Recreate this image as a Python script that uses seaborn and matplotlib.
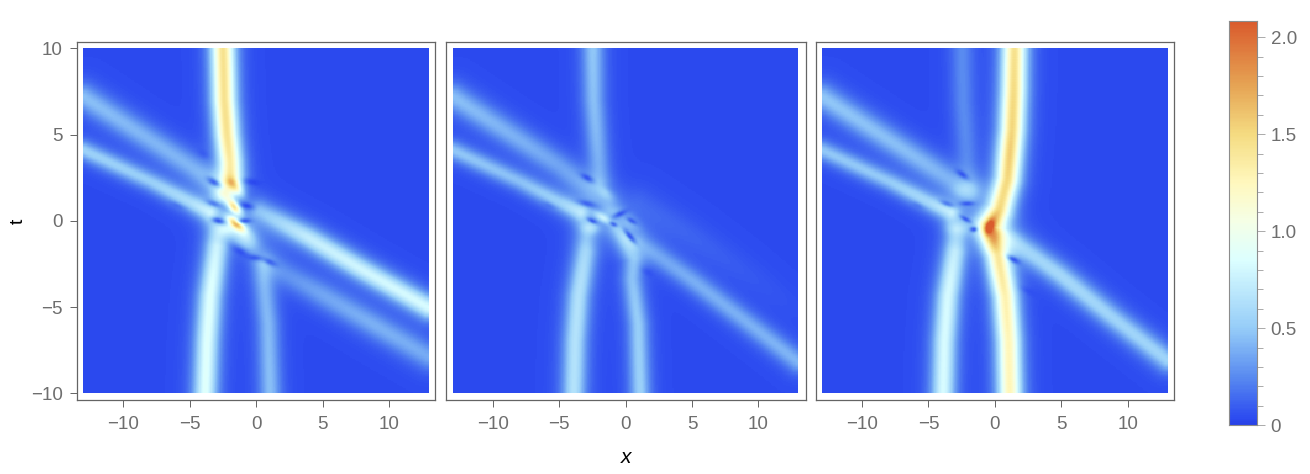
import numpy as np
import matplotlib
matplotlib.use("Agg")
import matplotlib.pyplot as plt
from matplotlib.colors import LinearSegmentedColormap
import seaborn as sns

plt.rcParams['font.family'] = ['Liberation Sans', 'DejaVu Sans']

# ================================
# VALUES
# The wave field itself cannot be read cell by cell, so each panel is kept as
# ridge tracks (x, t, peak height, width) and spots, estimated by eye.
# ================================

x_ticks = [-10, -5, 0, 5, 10]
t_ticks = [-10, -5, 0, 5, 10]
cbar_ticks = [0, 0.5, 1.0, 1.5, 2.0]
cbar_labels = ['0', '0.5', '1.0', '1.5', '2.0']
vmax = 2.084

# colour scale
cmap_values = [0, 0.03, 0.25, 0.5, 0.85, 1.05, 1.25, 1.5, 1.75, 2.084]
cmap_colors = ['#2842e6', '#2c4bf0', '#5a8cf0', '#96cdf8', '#dcffff',
               '#f5ffe6', '#fff8be', '#f5dc82', '#e6a555', '#da5c2d']

# --- panel 1 ridges
p1_top_x = [-2.5, -2.4, -2.2, -1.95, -1.9]
p1_top_t = [10, 7, 5, 3.4, 2.4]
p1_top_h = [1.42, 1.42, 1.45, 1.5, 1.6]
p1_d1_x = [-13, -8, -5, -2.5]
p1_d1_t = [7.2, 4.7, 3.2, 1.8]
p1_d1_h = [0.42, 0.38, 0.38, 0.42]
p1_d2_x = [-13, -8, -5, -3.5]
p1_d2_t = [4.1, 2.3, 1.1, 0.5]
p1_d2_h = [0.5, 0.48, 0.58, 0.75]
p1_d3_x = [0.3, 4, 8, 13]
p1_d3_t = [0.55, -1.0, -2.85, -5.05]
p1_d3_h = [0.5, 0.7, 0.76, 0.8]
p1_d4_x = [0.8, 5, 9, 13]
p1_d4_t = [-2.45, -4.3, -6.1, -7.9]
p1_d4_h = [0.2, 0.32, 0.36, 0.34]
p1_v1_x = [-3.84, -3.7, -3.47, -2.95, -2.9]
p1_v1_t = [-10, -7, -4.4, -1.5, -0.6]
p1_v1_h = [0.85, 0.85, 0.85, 0.85, 0.55]
p1_v2_x = [1.05, 0.9, 0.55, 0.5]
p1_v2_t = [-10, -6, -3.4, -2.6]
p1_v2_h = [0.42, 0.4, 0.38, 0.32]

# x, t, height, long radius, short radius, angle in degrees
p1_spots = [(-1.5, 1.9, 0.55, 0.8, 0.4, -50), (-1.65, 0.8, 1.15, 0.7, 0.38, -50),
            (-1.55, -0.15, 1.08, 0.8, 0.34, -40), (-0.9, -0.9, 0.55, 1.4, 0.8, -50),
            (-2.4, 1.5, 0.45, 0.8, 0.6, 0), (-2.2, -0.5, 0.35, 0.8, 0.6, 0),
            (-1, 0, 0.15, 3.2, 1.8, -30)]
# x, t, depth 0..1, long radius, short radius, angle in degrees
p1_dips = [(-3.2, 2.25, 0.8, 0.6, 0.28, -30), (-0.25, 2.25, 0.8, 0.65, 0.28, -10),
           (-4, 3.9, 0.4, 0.5, 0.3, -30), (-0.7, 0.87, 0.85, 0.5, 0.24, -15),
           (-2.85, 0, 0.85, 0.5, 0.24, -15), (-0.85, 0, 0.8, 0.5, 0.2, 0),
           (-6, 0.9, 0.35, 0.6, 0.2, -25), (-3.2, 1.0, 0.6, 0.6, 0.24, -20),
           (-1.2, -1.8, 0.7, 0.7, 0.28, -30), (-0.1, -2.15, 0.7, 0.6, 0.22, -5),
           (1.05, -2.4, 0.7, 0.6, 0.24, -25)]

# --- panel 2 ridges
p2_top_x = [-2.46, -2.4, -2.15, -1.9]
p2_top_t = [10, 7, 4.5, 2.4]
p2_top_h = [0.45, 0.42, 0.4, 0.38]
p2_d1_x = [-13, -8, -5, -1.4]
p2_d1_t = [7.2, 4.7, 3.2, 1.05]
p2_d1_h = [0.42, 0.36, 0.32, 0.38]
p2_d2_x = [-13, -8, -5, -3.4]
p2_d2_t = [4.1, 2.3, 1.1, 0.5]
p2_d2_h = [0.45, 0.42, 0.5, 0.68]
p2_d3_x = [1.1, 5, 9, 13]
p2_d3_t = [-1.3, -3.45, -5.8, -8.2]
p2_d3_h = [0.3, 0.35, 0.36, 0.38]
p2_d4_x = [1.1, 5, 9, 13]
p2_d4_t = [1.0, -0.9, -3.0, -5.2]
p2_d4_h = [0.1, 0.08, 0.05, 0.02]
p2_v1_x = [-3.9, -3.8, -3.55, -3.0, -2.9]
p2_v1_t = [-10, -7, -4.4, -1.8, -0.6]
p2_v1_h = [0.62, 0.62, 0.62, 0.62, 0.42]
p2_v2_x = [1.1, 0.95, 0.5, 0.6, -0.65]
p2_v2_t = [-10, -6, -3.4, -2.25, -0.5]
p2_v2_h = [0.5, 0.48, 0.45, 0.45, 0.42]

p2_spots = [(-1.7, 0.17, 0.45, 0.75, 0.3, -30), (-1.5, 1.6, 0.2, 0.7, 0.4, -40),
            (-0.9, 0.5, 0.15, 0.8, 0.5, 0), (-2.6, -0.4, 0.25, 0.7, 0.5, 0),
            (0.4, -0.1, 0.2, 0.9, 0.5, -40), (0.1, -1.0, 0.2, 1.0, 0.5, -50),
            (-1, 0, 0.12, 3.2, 1.8, -30)]
p2_dips = [(-2.9, 2.5, 0.8, 0.55, 0.24, -30), (-2.9, 1.0, 0.7, 0.75, 0.25, -15),
           (-2.5, 0, 0.8, 0.4, 0.18, -25), (-0.4, 0.4, 0.8, 0.6, 0.22, 25),
           (0.48, 0, 0.75, 0.45, 0.2, -30), (-0.9, -0.2, 0.75, 0.32, 0.18, -25),
           (0.35, -0.9, 0.85, 0.7, 0.22, -50), (1.7, -3.0, 0.5, 0.5, 0.3, -30),
           (-5.8, 0.9, 0.3, 0.5, 0.2, -25)]

# --- panel 3 ridges
p3_main_x = [1.48, 1.42, 1.3, 0.93, 0.3, -0.45, 0.18, 0.8, 1.05, 1.13]
p3_main_t = [10, 7.5, 5.3, 2.4, 0.64, -0.33, -1.9, -4.4, -7, -10]
p3_main_h = [1.42, 1.47, 1.52, 1.75, 2.0, 2.4, 1.55, 1.3, 1.24, 1.24]
p3_ghost_x = [-2.46, -2.4, -2.08, -1.8]
p3_ghost_t = [10, 7, 3.4, 2.2]
p3_ghost_h = [0.22, 0.22, 0.22, 0.25]
p3_d1_x = [-13, -8, -5, -1.8]
p3_d1_t = [7.2, 4.7, 3.2, 1.6]
p3_d1_h = [0.45, 0.42, 0.4, 0.38]
p3_d2_x = [-13, -8, -5, -3.3]
p3_d2_t = [4.1, 2.3, 1.1, 0.5]
p3_d2_h = [0.45, 0.46, 0.56, 0.75]
p3_d3_x = [0.55, 5, 9, 13]
p3_d3_t = [-0.7, -3.2, -5.7, -8.1]
p3_d3_h = [0.5, 0.55, 0.52, 0.52]
p3_v1_x = [-3.9, -3.8, -3.55, -3.0, -2.9]
p3_v1_t = [-10, -7, -4.4, -1.8, -0.7]
p3_v1_h = [0.8, 0.8, 0.8, 0.78, 0.5]

p3_spots = [(-2.8, -0.4, 0.22, 0.9, 0.6, 0), (-2.4, 1.7, 0.15, 0.9, 0.6, 0),
            (-1, 0, 0.1, 3.2, 1.8, -30), (-0.4, -0.35, 0.65, 0.55, 0.28, 70)]
p3_dips = [(-2.46, 2.7, 0.8, 0.55, 0.24, -35), (-2.08, 1.0, 0.75, 0.55, 0.18, 0),
           (-3.6, 1.0, 0.6, 0.6, 0.22, -20), (-2.2, 0.1, 0.75, 0.45, 0.17, -30),
           (-1.6, -0.5, 0.85, 0.3, 0.22, 0), (1.43, -2.26, 0.85, 0.55, 0.24, -30),
           (2.56, -4.1, 0.45, 0.6, 0.25, -30), (-5.85, 0.9, 0.3, 0.5, 0.2, -25)]

panels = [
    {'ridges': [(p1_top_x, p1_top_t, p1_top_h, 0.82), (p1_d1_x, p1_d1_t, p1_d1_h, 0.95),
                (p1_d2_x, p1_d2_t, p1_d2_h, 0.68), (p1_d3_x, p1_d3_t, p1_d3_h, 0.82),
                (p1_d4_x, p1_d4_t, p1_d4_h, 0.95), (p1_v1_x, p1_v1_t, p1_v1_h, 0.85),
                (p1_v2_x, p1_v2_t, p1_v2_h, 0.8)],
     'spots': p1_spots, 'dips': p1_dips},
    {'ridges': [(p2_top_x, p2_top_t, p2_top_h, 0.8), (p2_d1_x, p2_d1_t, p2_d1_h, 0.95),
                (p2_d2_x, p2_d2_t, p2_d2_h, 0.68), (p2_d3_x, p2_d3_t, p2_d3_h, 0.8),
                (p2_d4_x, p2_d4_t, p2_d4_h, 1.2), (p2_v1_x, p2_v1_t, p2_v1_h, 0.85),
                (p2_v2_x, p2_v2_t, p2_v2_h, 0.75)],
     'spots': p2_spots, 'dips': p2_dips},
    {'ridges': [(p3_main_x, p3_main_t, p3_main_h, 0.85),
                (p3_ghost_x, p3_ghost_t, p3_ghost_h, 0.85), (p3_d1_x, p3_d1_t, p3_d1_h, 0.95),
                (p3_d2_x, p3_d2_t, p3_d2_h, 0.68), (p3_d3_x, p3_d3_t, p3_d3_h, 0.85),
                (p3_v1_x, p3_v1_t, p3_v1_h, 0.85)],
     'spots': p3_spots, 'dips': p3_dips},
]

# ================================
# BUILD THE FIELDS
# ================================

n = 280
xs = np.linspace(-13, 13, n)
ts = np.linspace(10, -10, n)
X, T = np.meshgrid(xs, ts)
t_scale = 1.3  # one t unit is 1.3 times as many pixels as one x unit


def add_ridge(x_pts, t_pts, h_pts, w):
    # arc length along the track, then the highest sech^2 seen from each cell
    x_pts, t_pts, h_pts = map(np.array, (x_pts, t_pts, h_pts))
    seg = np.hypot(np.diff(x_pts), np.diff(t_pts) * t_scale)
    s = np.r_[0, np.cumsum(seg)]
    out = np.zeros_like(X)
    for si in np.linspace(0, s[-1], 160):
        xi = np.interp(si, s, x_pts)
        ti = np.interp(si, s, t_pts)
        hi = np.interp(si, s, h_pts)
        d = np.hypot(X - xi, (T - ti) * t_scale)
        out = np.maximum(out, hi / np.cosh(d / w) ** 2)
    return out


def blob(x0, t0, r1, r2, angle):
    a = np.deg2rad(angle)
    dx = X - x0
    dt = (T - t0) * t_scale
    u = dx * np.cos(a) + dt * np.sin(a)
    v = -dx * np.sin(a) + dt * np.cos(a)
    return np.exp(-(u / r1) ** 2 - (v / r2) ** 2)


def build_field(panel):
    z = np.zeros_like(X)
    for x_pts, t_pts, h_pts, w in panel['ridges']:
        z = z + add_ridge(x_pts, t_pts, h_pts, w) * (1 - 0.35 * np.exp(-((X + 1) / 3) ** 2 - ((T - 0.5) / 3) ** 2))
    for x0, t0, h, r1, r2, angle in panel['spots']:
        z = z + h * blob(x0, t0, r1, r2, angle)
    z = z + 0.03
    for x0, t0, depth, r1, r2, angle in panel['dips']:
        z = z * (1 - depth * blob(x0, t0, r1, r2, angle))
    return np.clip(z, 0, vmax)


# ================================
# PLOT
# ================================

W, H = 1310, 474
fig = plt.figure(figsize=(W / 100, H / 100), dpi=100)
grey = '#6e6e6e'
frame = '#646464'

# frame edges in pixels: left, right, image left, image right
frames = [(76.7, 435, 83.3, 429), (445.7, 805.7, 452.7, 798.3), (815.7, 1174.3, 822, 1167.7)]
top_px, bot_px, img_top, img_bot = 41.7, 400, 48.3, 393.3

cmap = LinearSegmentedColormap.from_list(
    'temperature', [(v / vmax, c) for v, c in zip(cmap_values, cmap_colors)])

for i, (panel, box) in enumerate(zip(panels, frames)):
    left, right, img_l, img_r = box
    ax = fig.add_axes([left / W, 1 - bot_px / H, (right - left) / W, (bot_px - top_px) / H])
    sns.heatmap(build_field(panel), ax=ax, cmap=cmap, vmin=0, vmax=vmax, cbar=False,
                xticklabels=False, yticklabels=False, rasterized=True)
    px_x = n / (img_r - img_l)
    px_y = n / (img_bot - img_top)
    ax.set_xlim(-(img_l - left) * px_x, n + (right - img_r) * px_x)
    ax.set_ylim(n + (bot_px - img_bot) * px_y, -(img_top - top_px) * px_y)
    for sp in ax.spines.values():
        sp.set_visible(True)
        sp.set_color(frame)
        sp.set_linewidth(0.9)
    ax.set_xticks([(v + 13) / 26 * n for v in x_ticks])
    ax.set_xticklabels([str(v).replace('-', '\u2212') for v in x_ticks])
    ax.tick_params(axis='x', length=5, width=0.7, color=frame, labelsize=13.5, labelcolor=grey, pad=6.5)
    if i == 0:
        ax.set_yticks([(10 - v) / 20 * n for v in t_ticks])
        ax.set_yticklabels([str(v).replace('-', '\u2212') for v in t_ticks], rotation=0)
        ax.tick_params(axis='y', length=5, width=0.7, color=frame, labelsize=13.5, labelcolor=grey, pad=5)
        ax.set_ylabel('t', fontsize=14, color='black', labelpad=3)
    else:
        ax.set_yticks([])
    if i == 1:
        ax.set_xlabel('x', fontsize=15, style='italic', color='black', labelpad=11)

# colour bar
cax = fig.add_axes([1229 / W, 1 - 425.3 / H, 27.7 / W, 404.3 / H])
bar_vals = np.linspace(vmax, 0, 300).reshape(-1, 1)
sns.heatmap(bar_vals, ax=cax, cmap=cmap, vmin=0, vmax=vmax, cbar=False,
            xticklabels=False, yticklabels=False, rasterized=True)
for sp in cax.spines.values():
    sp.set_visible(True)
    sp.set_color('#8c8c8c')
    sp.set_linewidth(0.8)
cax.yaxis.tick_right()
cax.set_yticks([(vmax - v) / vmax * 300 for v in cbar_ticks])
cax.set_yticklabels(cbar_labels, rotation=0)
cax.set_yticks([(vmax - v / 10) / vmax * 300 for v in range(21) if v % 5 != 0], minor=True)
cax.tick_params(axis='y', which='major', length=6, width=0.7, color='#aaaaaa',
                labelsize=13.5, labelcolor=grey, pad=4)
cax.tick_params(axis='y', which='minor', length=4, width=0.7, color='#aaaaaa')

fig.savefig('out.png', dpi=100, facecolor='white')
